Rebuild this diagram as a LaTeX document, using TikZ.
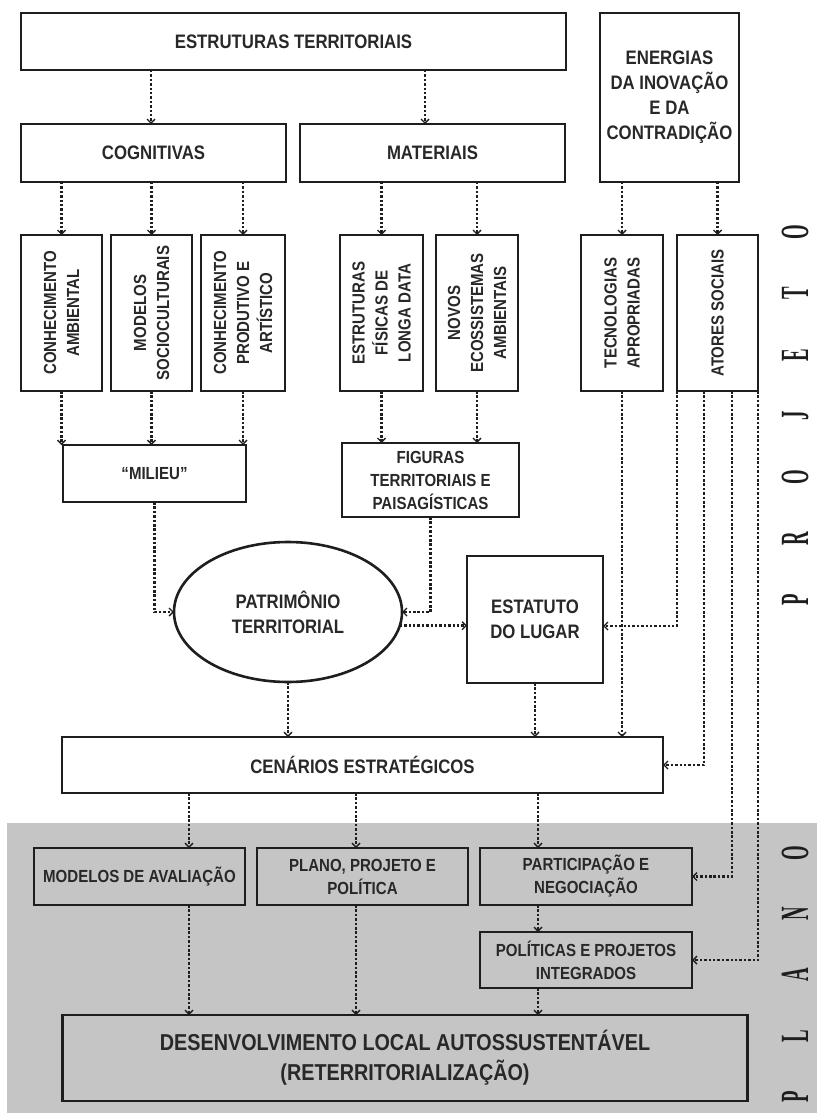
\documentclass[tikz,border=0pt]{standalone}
\usepackage{fontspec}
\setmainfont[FakeStretch=0.86]{Liberation Sans}
\newfontfamily\sideletters[FakeStretch=0.47]{Liberation Serif}
\usepackage{tikz}
\usetikzlibrary{arrows.meta, shapes.geometric, positioning}
\definecolor{boxline}{RGB}{30,30,30}
\definecolor{boxtext}{RGB}{40,40,40}
\definecolor{planogray}{RGB}{197,197,197}

\begin{document}
\begin{tikzpicture}[
	x = 1pt, y = -1pt,
	> = {Straight Barb[length=4pt,width=8pt,line width=1.4pt]},
	block/.style = {draw=boxline, line width=2.6pt, fill=white, outer sep=0pt, inner sep=2pt, align=center, text=boxtext, font=\bfseries\fontsize{19.5}{25}\selectfont},
	smalltext/.style = {font=\bfseries\fontsize{17.5}{23}\selectfont},
	colbox/.style = {block, smalltext, rotate=90, minimum width=156pt},
	planbox/.style = {block, smalltext, fill=none, minimum width=211pt, minimum height=57pt},
	flow/.style = {->, color=boxline, line width=2.8pt, dash pattern=on 2.5pt off 1.9pt},
	sideletter/.style = {rotate=90, inner sep=0pt, text height=28pt, text depth=0pt, text=boxline, font=\sideletters\bfseries\fontsize{40}{40}\selectfont}
	]
	\fill[white] (0,0) rectangle (817,1115);
	\useasboundingbox (0,0) rectangle (817,1115);
	\fill[planogray] (7,823) rectangle (817,1113);

	\node[block, minimum width=545pt, minimum height=57pt] (estr) at (293.5,41.5) {ESTRUTURAS TERRITORIAIS};
	\node[block, minimum width=139pt, minimum height=169pt] (energ) at (669.5,97.5) {ENERGIAS\\DA INOVAÇÃO\\E DA\\CONTRADIÇÃO};
	\node[block, minimum width=265pt, minimum height=58pt] (cogn) at (153.5,153) {COGNITIVAS};
	\node[block, minimum width=265pt, minimum height=58pt] (mat) [right=14pt of cogn] {MATERIAIS};

	\node[colbox, minimum height=81pt] (camb) at (61.5,313) {CONHECIMENTO\\AMBIENTAL};
	\node[colbox, minimum height=81pt] (msoc) at (151.5,313) {MODELOS\\SOCIOCULTURAIS};
	\node[colbox, minimum height=84pt] (cprod) at (243,313) {CONHECIMENTO\\PRODUTIVO E\\ARTÍSTICO};
	\node[colbox, minimum height=83pt] (efis) at (381.5,313) {ESTRUTURAS\\FÍSICAS DE\\LONGA DATA};
	\node[colbox, minimum height=82pt] (neco) at (477,313) {NOVOS\\ECOSSISTEMAS\\AMBIENTAIS};
	\node[colbox, minimum height=82pt] (tecn) at (622,313) {TECNOLOGIAS\\APROPRIADAS};
	\node[colbox, minimum height=81pt] (ator) at (717.5,313) {ATORES SOCIAIS};

	\node[block, smalltext, minimum width=183pt, minimum height=57pt] (milieu) at (154.5,473.5) {“MILIEU”};
	\node[block, smalltext, minimum width=177pt, minimum height=74pt] (fig) at (430.5,480) {FIGURAS\\TERRITORIAIS E\\PAISAGÍSTICAS};
	\node[block, ellipse, minimum width=228pt, minimum height=140pt] (patr) at (288,612) {PATRIMÔNIO\\TERRITORIAL};
	\node[block, minimum width=136pt, minimum height=127pt] (estat) at (535,619.5) {ESTATUTO\\DO LUGAR};
	\node[block, minimum width=601pt, minimum height=56pt] (cen) at (362.5,765) {CENÁRIOS ESTRATÉGICOS};

	\node[planbox] (maval) at (139.5,876.5) {MODELOS DE AVALIAÇÃO};
	\node[planbox] (plano) [right=12pt of maval] {PLANO, PROJETO E\\POLÍTICA};
	\node[planbox, minimum width=212pt] (partic) [right=12pt of plano] {PARTICIPAÇÃO E\\NEGOCIAÇÃO};
	\node[planbox, minimum width=212pt, minimum height=56pt] (polit) [below=27pt of partic] {POLÍTICAS E PROJETOS\\INTEGRADOS};
	\node[block, fill=none, minimum width=685pt, minimum height=86pt, font=\bfseries\fontsize{23}{30}\selectfont] (desenv) at (405,1058) {DESENVOLVIMENTO LOCAL AUTOSSUSTENTÁVEL\\(RETERRITORIALIZAÇÃO)};

	\foreach \l [count=\i] in {P,R,O,J,E,T,O}
		\node[sideletter] (proj-\i) at (794,{661.3-61.3*\i}) {\l};
	\foreach \l [count=\i] in {P,L,A,N,O}
		\node[sideletter] (plan-\i) at (794,{1158-61*\i}) {\l};

	\path[flow]
	(estr.south -| 151,0) edge (cogn.north -| 151,0)
	(estr.south -| 425,0) edge (mat.north -| 425,0)
	(cogn.south -| camb) edge (camb.east)
	(cogn.south -| msoc) edge (msoc.east)
	(cogn.south -| cprod) edge (cprod.east)
	(mat.south -| efis) edge (efis.east)
	(mat.south -| neco) edge (neco.east)
	(energ.south -| tecn) edge (tecn.east)
	(energ.south -| ator) edge (ator.east)
	(camb.west) edge (camb.west |- milieu.north)
	(msoc.west) edge (msoc.west |- milieu.north)
	(cprod.west) edge (cprod.west |- milieu.north)
	(efis.west) edge (efis.west |- fig.north)
	(neco.west) edge (neco.west |- fig.north)
	(patr.-7) edge (patr.-7 -| estat.west)
	(patr.south) edge (patr.south |- cen.north)
	(estat.south) edge (estat.south |- cen.north)
	(tecn.west) edge (tecn.west |- cen.north)
	(cen.south -| 189,0) edge (maval.north -| 189,0)
	(cen.south -| 356,0) edge (plano.north -| 356,0)
	(cen.south -| 538,0) edge (partic.north -| 538,0)
	(maval.south -| 189,0) edge (desenv.north -| 189,0)
	(plano.south -| 356,0) edge (desenv.north -| 356,0)
	(partic.south -| 538,0) edge (polit.north -| 538,0)
	(polit.south -| 538,0) edge (desenv.north -| 538,0);
	\draw[flow] (milieu.south) |- (patr.west);
	\draw[flow] (fig.south) |- (patr.east);
	\draw[flow] (ator.north west) |- ([yshift=-6.5pt]estat.east);
	\draw[flow] ([xshift=27pt]ator.north west) |- (cen.east);
	\draw[flow] ([xshift=55pt]ator.north west) |- (partic.east);
	\draw[flow] (ator.south west) |- (polit.east);
\end{tikzpicture}
\end{document}
